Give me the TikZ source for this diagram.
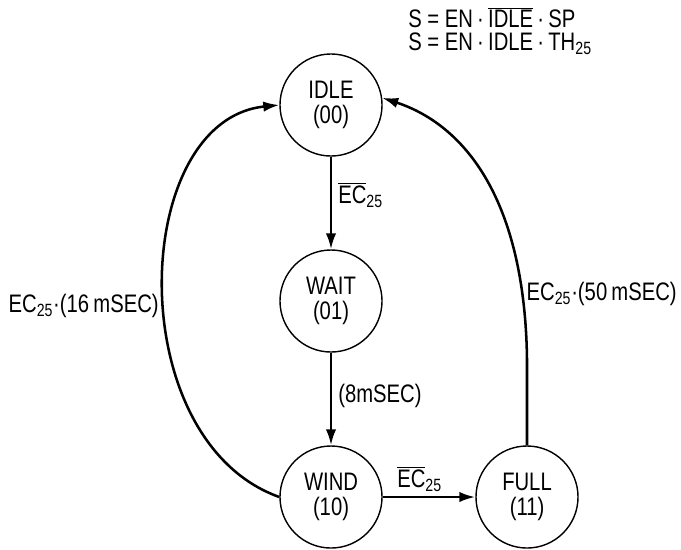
\documentclass[tikz,border=0pt]{standalone}
\usepackage{fontspec}
\setmainfont{Liberation Sans}[FakeStretch=0.8]
\usepackage{tikz}
\usetikzlibrary{arrows.meta}

\tikzset{
  state/.style={circle,draw,line width=1pt,minimum size=2.55cm,inner sep=0pt,align=center,font=\fontsize{18}{17.5}\selectfont},
  trans/.style={line width=1.8pt,-{Latex[length=4mm,width=2.6mm]}},
  lbl/.style={inner sep=0pt,font=\fontsize{18}{16.5}\selectfont}
}
\newcommand{\ecbar}{$\overline{\mbox{EC}}$\textsubscript{25}}

\begin{document}
\begin{tikzpicture}[x=0.025cm,y=-0.025cm]
  \useasboundingbox (0,0) rectangle (681,549);
  \node[state] (idle) at (331,105) {IDLE\\(00)};
  \node[state] (wait) at (331,301) {WAIT\\(01)};
  \node[state] (wind) at (331,497) {WIND\\(10)};
  \node[state] (full) at (527,497) {FULL\\(11)};
  \coordinate (bend) at (527,360);
  \draw[trans] (idle) -- (wait);
  \draw[trans] (wait) -- (wind);
  \draw[trans] (wind) -- (full);
  \draw[trans] (full.north) -- (bend) .. controls (525,200) and (465,125) .. (idle.8);
  \draw[trans] (wind.west) .. controls (120,440) and (130,120) .. (idle.west);
  \node[lbl,anchor=north west,align=left] (eqs) at (408,7)
    {S = EN\,·\,$\overline{\mbox{IDLE}}$\,·\,SP\\S = EN\,·\,IDLE\,·\,TH\textsubscript{25}};
  \node[lbl,anchor=base west] (ecidle) at (338,203) {\ecbar};
  \node[lbl,anchor=base west] (tw) at (338,402) {(8mSEC)};
  \node[lbl,anchor=base west] (ecwind) at (397,487) {\ecbar};
  \node[lbl,anchor=base east] (tl) at (159,312) {EC\textsubscript{25}·(16\,mSEC)};
  \node[lbl,anchor=base east] (tr) at (677,300) {EC\textsubscript{25}·(50\,mSEC)};
\end{tikzpicture}
\end{document}
